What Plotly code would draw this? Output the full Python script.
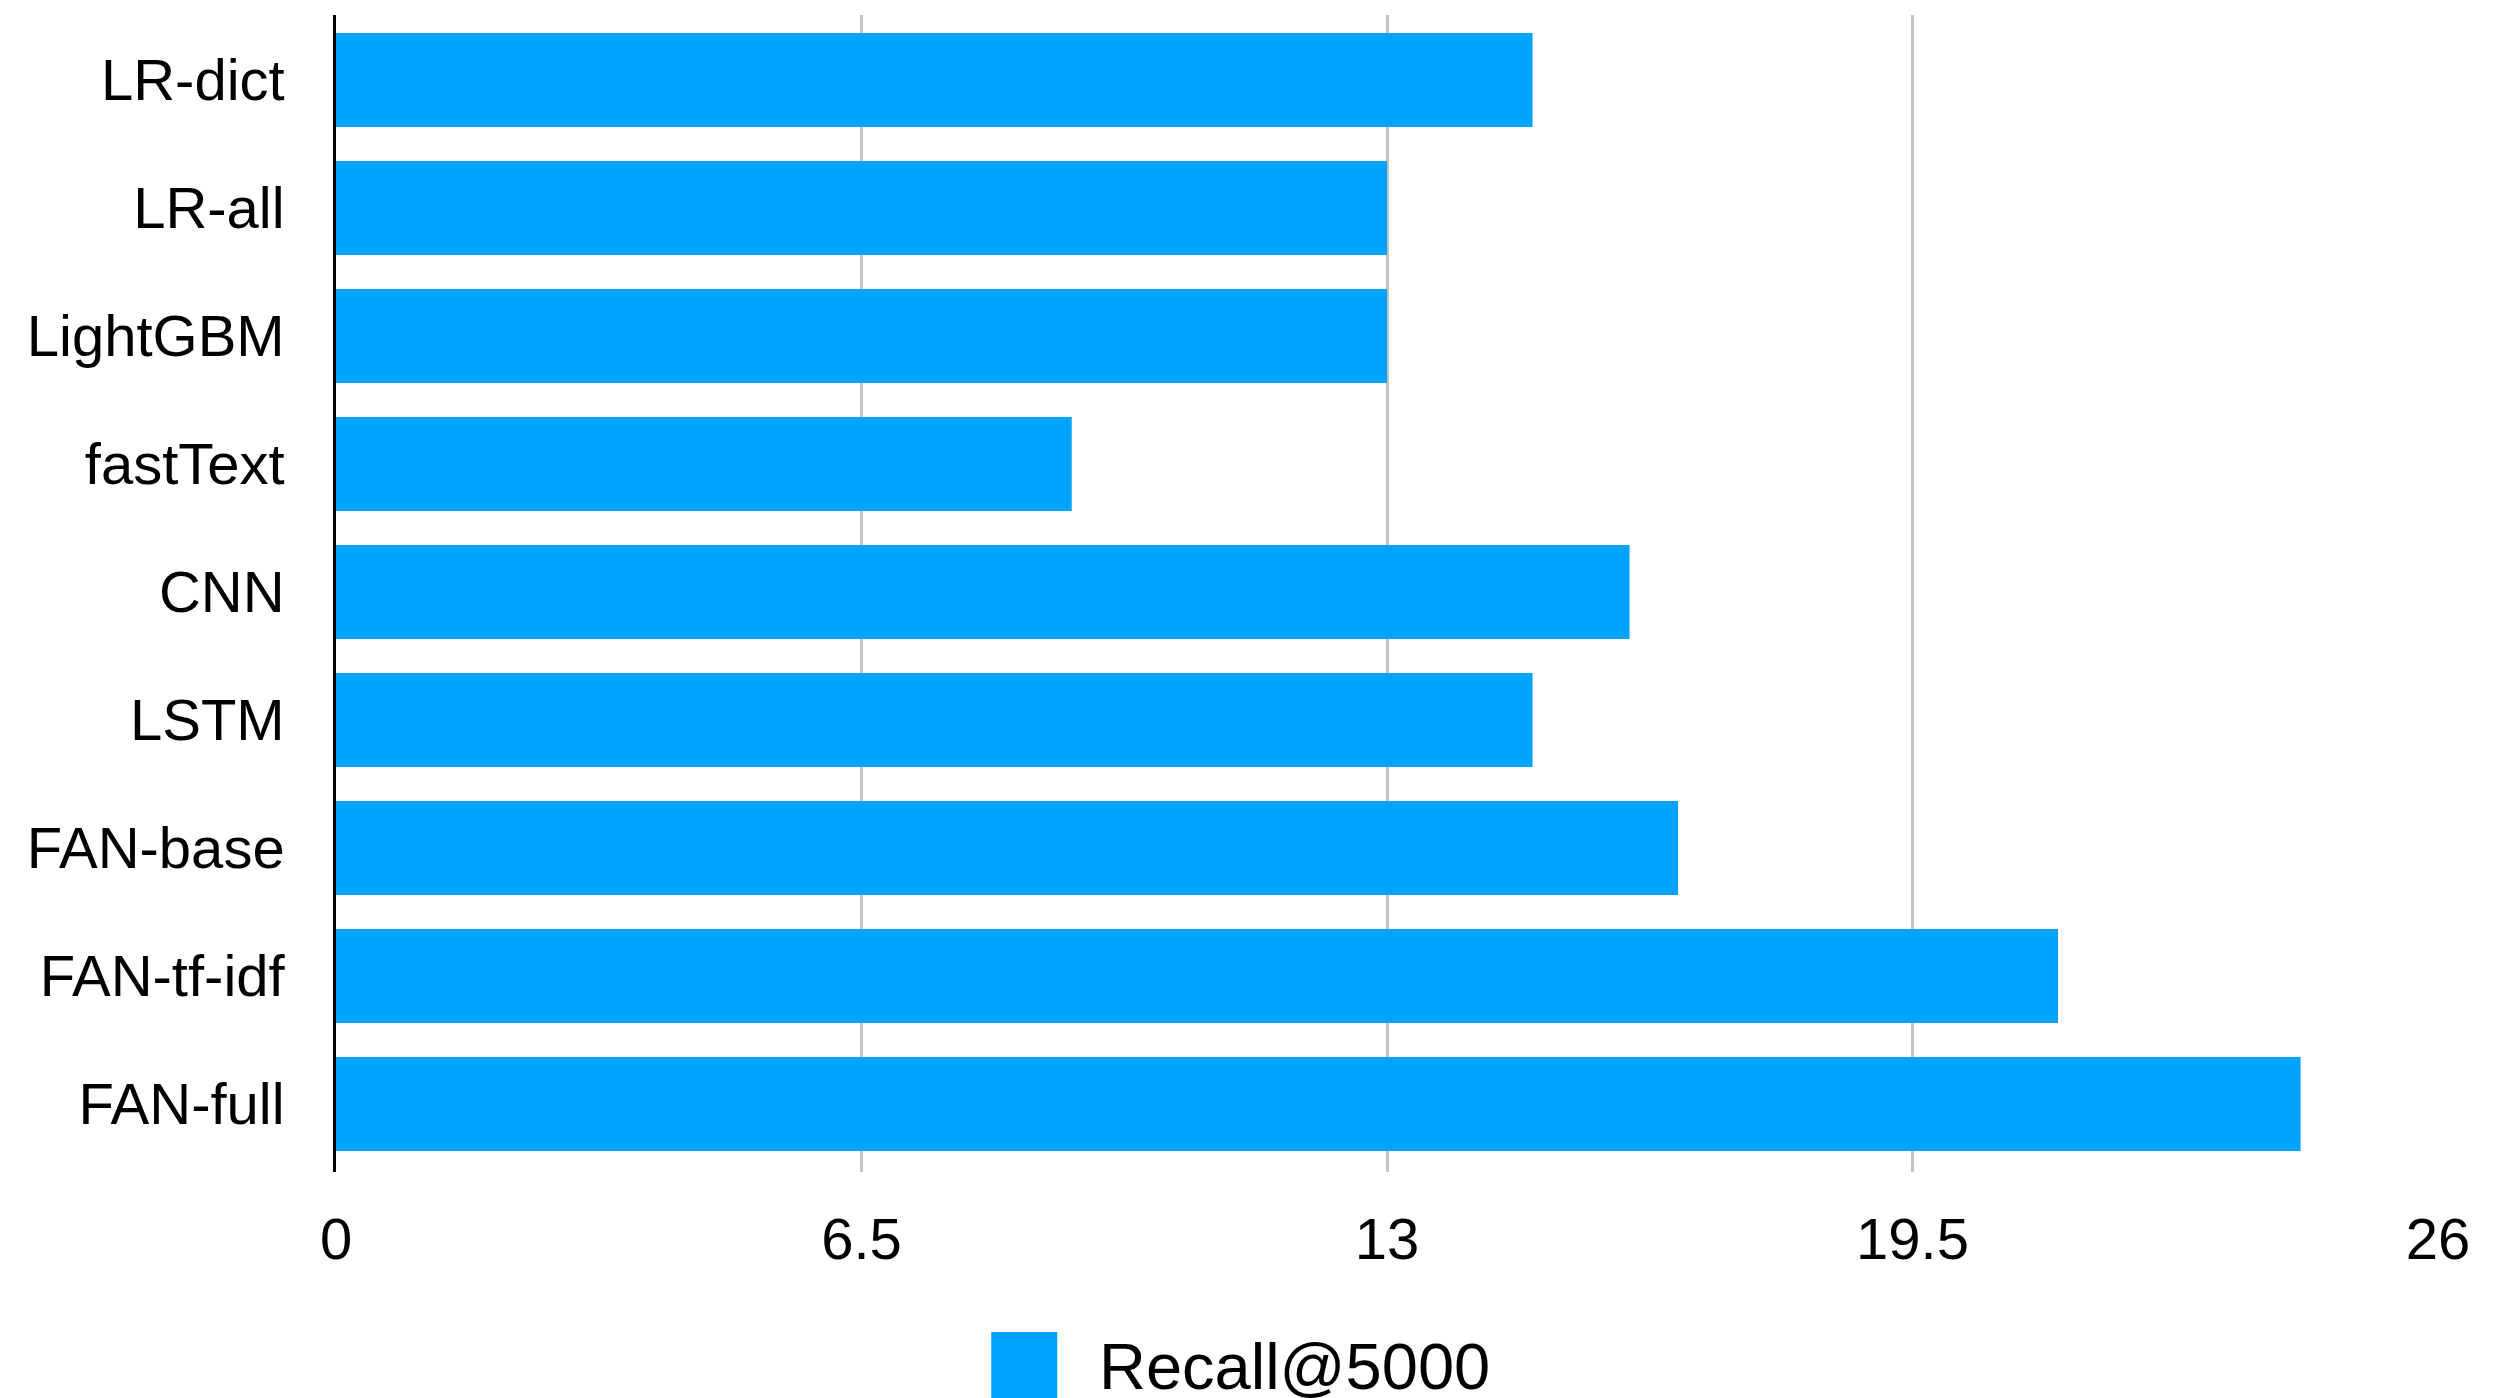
import plotly.graph_objects as go

models = ["LR-dict", "LR-all", "LightGBM", "fastText", "CNN", "LSTM",
          "FAN-base", "FAN-tf-idf", "FAN-full"]
recall_5000 = [14.8, 13.0, 13.0, 9.1, 16.0, 14.8, 16.6, 21.3, 24.3]
series_name = "Recall@5000"
x_tick_vals = [0, 6.5, 13, 19.5, 26]
x_tick_text = ["0", "6.5", "13", "19.5", "26"]

BAR_COLOR = "#00A2FF"
FONT = "Liberation Sans, Arial, Helvetica, sans-serif"

fig = go.Figure()
fig.add_trace(go.Bar(
    y=models, x=recall_5000, orientation="h", name=series_name,
    marker=dict(color=BAR_COLOR, line=dict(width=0)),
    width=0.734, showlegend=False,
))

W, H = 2500, 1398
L, R, T, B = 335.5, 61.7, 15, 226

fig.update_layout(
    width=W, height=H,
    margin=dict(l=L, r=R, t=T, b=B, pad=0),
    paper_bgcolor="white", plot_bgcolor="white",
    font=dict(family=FONT, color="black", size=58),
    xaxis=dict(
        range=[0, 26], tickvals=x_tick_vals, ticktext=x_tick_text,
        showgrid=True, gridcolor="#c4c4c4", gridwidth=2.5,
        zeroline=False, showline=False, ticks="",
        tickfont=dict(size=58, family=FONT, color="black"),
        ticklabelstandoff=28,
    ),
    yaxis=dict(
        categoryorder="array", categoryarray=models,
        range=[8.531, -0.508],
        showgrid=False, zeroline=False,
        showline=True, linecolor="black", linewidth=2.5,
        ticks="", tickfont=dict(size=58, family=FONT, color="black"),
        ticklabelstandoff=37,
    ),
    bargap=0.266,
)

# Legend drawn large, like the reference (Plotly's legend glyph cannot be scaled)
fig.add_shape(type="rect", xref="paper", yref="paper",
              x0=(991 - L) / (W - L - R), x1=(1057 - L) / (W - L - R),
              y0=(H - B - 1398) / (H - T - B), y1=(H - B - 1332) / (H - T - B),
              fillcolor=BAR_COLOR, line=dict(width=0), layer="above")
fig.add_annotation(xref="paper", yref="paper",
                   x=(1097 - L) / (W - L - R), y=(H - B - 1366) / (H - T - B),
                   xanchor="left", yanchor="middle", showarrow=False,
                   text=series_name, font=dict(size=65, family=FONT, color="black"))

fig.write_html("out.html")
